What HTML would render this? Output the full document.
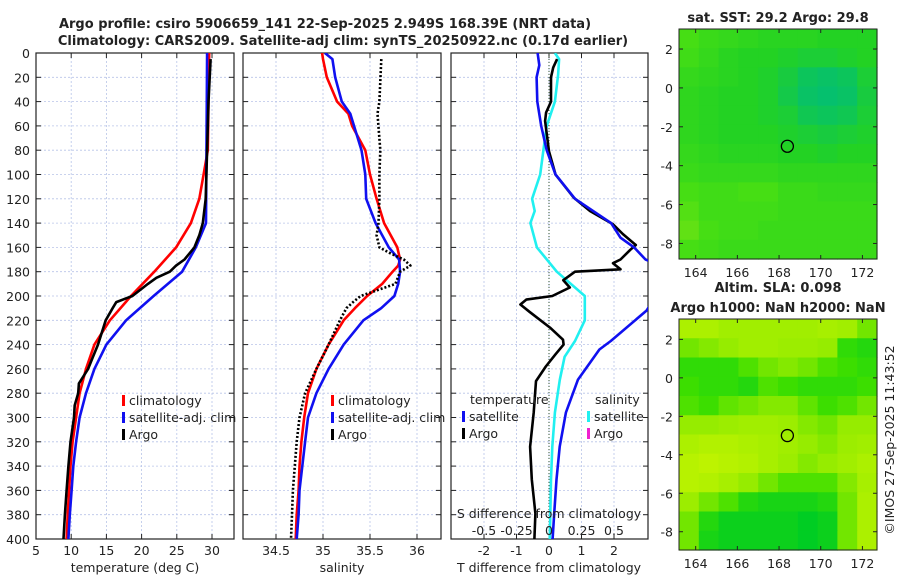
<!DOCTYPE html>
<html><head><meta charset="utf-8"><style>
body{margin:0;background:#fff;}
svg{display:block;font-family:"DejaVu Sans","Liberation Sans",sans-serif;}
</style></head><body>
<svg id="c" width="900" height="580" viewBox="0 0 900 580"></svg>
<script>
// ---------- data ----------
const depthTicks=[0,20,40,60,80,100,120,140,160,180,200,220,240,260,280,300,320,340,360,380,400];
const tempTicks=[5,10,15,20,25,30];
const salTicks=[34.5,35,35.5,36];
const tdTicks=[-2,-1,0,1,2];
const sdTicks=[-0.5,-0.25,0,0.25,0.5];
const sdTickLabels=["-0.5","-0.25","0","0.25","0.5"];
const climTempDepth=[0,80,100,120,140,160,180,200,220,240,260,280,300,320,340,360,380,400];
const climTemp=[29.6,29.4,28.8,28.2,27.0,24.9,21.8,18.5,15.5,13.3,12.1,11.2,10.7,10.2,9.9,9.7,9.5,9.35];
const satTempDepth=[0,140,160,180,200,220,240,260,280,300,320,340,360,380,400];
const satTemp=[29.3,29.15,27.7,25.75,21.7,17.8,15.0,13.3,12.1,11.2,10.7,10.3,10.05,9.8,9.6];
const argoTempDepth=[5,40,100,120,140,150,160,170,175,180,185,190,200,205,210,220,240,250,260,272,280,290,300,320,340,360,380,400];
const argoTemp=[29.8,29.5,29.2,29.1,28.7,28.2,27.5,26.1,24.9,24.0,22.1,20.9,18.7,16.4,15.9,14.9,13.8,13.1,12.4,11.1,11.0,10.5,10.4,9.9,9.6,9.35,9.1,8.9];
const climSalDepth=[0,5,20,40,50,60,80,100,120,140,160,170,175,180,190,200,210,220,240,260,280,300,320,340,360,380,400];
const climSal=[34.99,35.0,35.04,35.15,35.27,35.31,35.45,35.5,35.57,35.65,35.79,35.82,35.8,35.74,35.63,35.47,35.34,35.22,35.06,34.93,34.84,34.8,34.77,34.75,34.74,34.72,34.71];
const satSalDepth=[0,5,20,40,50,80,100,120,140,160,170,180,190,200,210,220,240,260,280,300,320,340,360,380,400];
const satSal=[35.02,35.1,35.13,35.2,35.29,35.41,35.45,35.46,35.56,35.7,35.81,35.82,35.8,35.76,35.62,35.43,35.22,35.06,34.93,34.84,34.81,34.78,34.75,34.74,34.72];
const argoSalDepth=[5,40,50,80,100,120,140,150,160,165,170,175,180,190,200,205,210,220,240,260,280,300,320,340,360,380,400];
const argoSal=[35.62,35.6,35.58,35.61,35.6,35.6,35.59,35.57,35.6,35.72,35.86,35.93,35.82,35.77,35.4,35.32,35.25,35.18,35.06,34.93,34.81,34.75,34.72,34.7,34.68,34.67,34.66];
const satTdDepth=[0,10,20,40,60,80,100,120,140,152,160,170,180,200,212,237,244,269,296,324,351,379,400];
const satTd=[-0.35,-0.3,-0.38,-0.36,-0.24,-0.07,0.2,0.8,1.91,2.2,2.62,2.97,3.9,3.3,3.0,1.9,1.55,0.89,0.52,0.33,0.23,0.16,0.11];
const argoTdDepth=[5,12,20,40,49,56,81,100,119,130,141,149,158,162,170,173,178,180,187,193,200,203,207,213,226,236,240,248,258,270,296,324,351,379,400];
const argoTd=[0.25,0.13,0.06,0.06,-0.09,-0.12,0,0.2,0.76,1.26,1.97,2.27,2.67,2.5,2.2,1.97,2.2,0.8,0.44,0.64,0.1,-0.7,-0.88,-0.6,0.03,0.43,0.45,0.2,-0.1,-0.4,-0.47,-0.58,-0.53,-0.42,-0.45];
const satSdDepth=[0,5,18,40,60,80,100,120,130,140,160,180,200,220,237,250,269,296,324,351,400];
const satSd=[0.045,0.078,0.07,0.045,-0.018,-0.043,-0.068,-0.13,-0.11,-0.143,-0.093,0.06,0.275,0.275,0.2,0.12,0.083,0.045,0.025,0.015,0.006];
const lonTicks=[164,166,168,170,172];
const latTicks=[2,0,-2,-4,-6,-8];
const sstGrid=[
[.3,.4,.45,.5,.55,.55,.55,.6,.6,.6],
[.35,.45,.55,.6,.6,.65,.7,.7,.65,.6],
[.45,.5,.55,.6,.65,.75,.9,.95,.9,.7],
[.5,.55,.6,.6,.65,.8,.95,1,.95,.75],
[.5,.55,.6,.6,.65,.7,.85,.9,.85,.7],
[.5,.55,.6,.6,.6,.65,.7,.75,.7,.65],
[.45,.5,.55,.55,.55,.6,.6,.65,.6,.6],
[.4,.45,.45,.45,.45,.5,.5,.5,.5,.5],
[.3,.35,.35,.3,.3,.4,.4,.45,.45,.45],
[.25,.35,.35,.35,.35,.4,.4,.4,.4,.4],
[.2,.3,.35,.35,.4,.4,.4,.4,.4,.4],
[.3,.35,.4,.4,.4,.4,.4,.4,.4,.4]];
const slaGrid=[
[.3,.3,.4,.4,.4,.4,.4,.35,.4,.6],
[.6,.55,.5,.4,.4,.45,.45,.5,.8,.85],
[.8,.8,.8,.7,.6,.55,.6,.7,.75,.8],
[.75,.8,.8,.85,.7,.75,.8,.8,.8,.75],
[.7,.75,.65,.6,.55,.55,.65,.75,.7,.6],
[.5,.5,.45,.4,.4,.45,.55,.6,.5,.5],
[.3,.25,.25,.3,.35,.4,.5,.55,.45,.4],
[.2,.15,.2,.25,.35,.45,.55,.5,.4,.3],
[.2,.25,.35,.5,.6,.7,.7,.7,.55,.35],
[.45,.6,.7,.85,.9,.9,.9,.85,.6,.3],
[.6,.85,.95,.95,.95,.95,1,.95,.6,.3],
[.6,.9,.95,.95,.95,.95,1,.95,.6,.3]];
const argoLon=168.4, argoLat=-3.0;

// ---------- helpers ----------
const svg=document.getElementById('c');
const NS='http://www.w3.org/2000/svg';
function el(tag,attrs,parent){const e=document.createElementNS(NS,tag);for(const k in attrs)e.setAttribute(k,attrs[k]);(parent||svg).appendChild(e);return e;}
function txt(x,y,s,size,anchor,weight,parent){const t=el('text',{x:x,y:y,'font-size':size,'text-anchor':anchor||'middle','font-weight':weight||'normal',fill:'#222'},parent);t.textContent=s;return t;}
const Y0=53,Y1=539;
const yD=d=>Y0+(d/400)*(Y1-Y0);
function lin(d0,d1,p0,p1){return v=>p0+(v-d0)/(d1-d0)*(p1-p0);}
const xT=lin(5,30,36,212), xS=lin(34.5,36,276,417), xTd=lin(0,2,549,614), xSd=lin(0,0.5,549,614);
const panels=[{l:36,r:234,name:'temperature-panel'},{l:243,r:441,name:'salinity-panel'},{l:451,r:648,name:'difference-panel'}];

let t=txt(325,28,'Argo profile: csiro 5906659_141 22-Sep-2025 2.949S 168.39E (NRT data)',13,'middle','bold');

t=txt(343,45,'Climatology: CARS2009. Satellite-adj clim: synTS_20250922.nc (0.17d earlier)',13,'middle','bold');


function framePanel(p,xs,xticks,labels){
  const g=el('g',{});
  
  
  depthTicks.forEach(d=>{
    el('line',{x1:p.l,x2:p.r,y1:yD(d),y2:yD(d),stroke:'#b8c4e8','stroke-width':0.8,'stroke-dasharray':'2,2'},g);
    el('line',{x1:p.l,x2:p.l+5,y1:yD(d),y2:yD(d),stroke:'#222'},g);
    el('line',{x1:p.r-5,x2:p.r,y1:yD(d),y2:yD(d),stroke:'#222'},g);
  });
  xticks.forEach((v,i)=>{const x=xs(v);
    el('line',{x1:x,x2:x,y1:Y0,y2:Y1,stroke:'#b8c4e8','stroke-width':0.8,'stroke-dasharray':'2,2'},g);
    el('line',{x1:x,x2:x,y1:Y1,y2:Y1-5,stroke:'#222'},g);
    el('line',{x1:x,x2:x,y1:Y0,y2:Y0+5,stroke:'#222'},g);
    const tl=txt(x,555,labels?labels[i]:String(v),12.5,'middle','normal',g);
    
    
  });
  el('rect',{x:p.l,y:Y0,width:p.r-p.l,height:Y1-Y0,fill:'none',stroke:'#222','stroke-width':1.2},g);
  return g;
}
const g1=framePanel(panels[0],xT,tempTicks);
depthTicks.forEach(d=>{const tl=txt(30,yD(d)+5,String(d),12.5,'end','normal',g1);
  
  });
const g2=framePanel(panels[1],xS,salTicks);
const g3=framePanel(panels[2],xTd,tdTicks);
el('line',{x1:xTd(0),x2:xTd(0),y1:Y0,y2:Y1,stroke:'#335533','stroke-width':1,'stroke-dasharray':'1,2'},g3);

let at=txt(135,572,'temperature (deg C)',12.5);
at=txt(342,572,'salinity',12.5);
at=txt(549,572,'T difference from climatology',12.5);

function clipFor(p,id){const cp=el('clipPath',{id:id});el('rect',{x:p.l,y:Y0,width:p.r-p.l,height:Y1-Y0},cp);return 'url(#'+id+')';}
const cl1=clipFor(panels[0],'cl1'),cl2=clipFor(panels[1],'cl2'),cl3=clipFor(panels[2],'cl3');
function line(depths,vals,xs,color,name,clip,parent,dash){
  const pts=depths.map((d,i)=>xs(vals[i]).toFixed(1)+','+yD(d).toFixed(1)).join(' ');
  const a={points:pts,fill:'none',stroke:color,'stroke-width':2.6,'stroke-linejoin':'round','clip-path':clip};
  if(dash)a['stroke-dasharray']=dash;
  const l=el('polyline',a,parent);
  
  
}
line(climTempDepth,climTemp,xT,'#f00','climatology-temp-line',cl1,g1);
line(satTempDepth,satTemp,xT,'#1010f0','satellite-temp-line',cl1,g1);
line(argoTempDepth,argoTemp,xT,'#000','argo-temp-line',cl1,g1);
line(climSalDepth,climSal,xS,'#f00','climatology-sal-line',cl2,g2);
line(satSalDepth,satSal,xS,'#1010f0','satellite-sal-line',cl2,g2);
line(argoSalDepth,argoSal,xS,'#000','argo-sal-line',cl2,g2,'2,2');
line(satSdDepth,satSd,xSd,'#20f0f0','satellite-sdiff-line',cl3,g3);
line(argoTdDepth,argoTd,xTd,'#000','argo-tdiff-line',cl3,g3);
line(satTdDepth,satTd,xTd,'#1010f0','satellite-tdiff-line',cl3,g3);

function legend(x,y,items,parent){items.forEach((it,i)=>{
  const yy=y+i*17;
  const m=el('rect',{x:x,y:yy-10,width:3,height:11,fill:it[1]},parent);
  
  const lt=txt(x+7,yy,it[0],12.5,'start','normal',parent);
  
});}
legend(122,405,[['climatology','#f00'],['satellite-adj. clim','#1010f0'],['Argo','#000']],g1);
legend(331,405,[['climatology','#f00'],['satellite-adj. clim','#1010f0'],['Argo','#000']],g2);
let lt=txt(470,404,'temperature',12.5,'start','normal',g3);
lt=txt(595,404,'salinity',12.5,'start','normal',g3);
legend(462,421,[['satellite','#1010f0'],['Argo','#000']],g3);
legend(587,421,[['satellite','#20f0f0'],['Argo','#f020d0']],g3);
lt=txt(549,518,'S difference from climatology',12.5,'middle','normal',g3);
sdTicks.forEach((v,i)=>{const s=txt(xSd(v),535,sdTickLabels[i],12.5,'middle','normal',g3);
  });

// ---------- maps ----------
function mix(a,b,f){return a.map((v,i)=>Math.round(v+(b[i]-v)*f));}
function cmap(stops,v){for(let i=1;i<stops.length;i++){if(v<=stops[i][0]){const f=(v-stops[i-1][0])/(stops[i][0]-stops[i-1][0]);const c=mix(stops[i-1][1],stops[i][1],f);return 'rgb('+c.join(',')+')';}}const c=stops[stops.length-1][1];return 'rgb('+c.join(',')+')';}
const sstStops=[[0,[150,232,20]],[0.3,[70,222,20]],[0.6,[35,210,35]],[1,[5,192,110]]];
const slaStops=[[0,[205,246,0]],[0.5,[150,236,0]],[0.75,[60,222,0]],[1,[0,205,35]]];
function map(box,grid,stops,name,latTop,latBot,title){
  const g=el('g',{});
  
  
  const lonL=163.2,lonR=172.7;
  const xL=lin(lonL,lonR,box.l,box.r), yL=lin(latTop,latBot,box.t,box.b);
  const rows=grid.length,cols=grid[0].length;
  const cw=(box.r-box.l)/cols,ch=(box.b-box.t)/rows;
  grid.forEach((row,r)=>row.forEach((v,c)=>{
    const cell=el('rect',{x:box.l+c*cw,y:box.t+r*ch,width:cw+0.6,height:ch+0.6,fill:cmap(stops,v)},g);
    
    
  }));
  el('rect',{x:box.l,y:box.t,width:box.r-box.l,height:box.b-box.t,fill:'none',stroke:'#222','stroke-width':1},g);
  lonTicks.forEach(v=>{const x=xL(v);el('line',{x1:x,x2:x,y1:box.b,y2:box.b-4,stroke:'#222'},g);el('line',{x1:x,x2:x,y1:box.t,y2:box.t+4,stroke:'#222'},g);
    const l=txt(x,box.b+18,String(v),12.5,'middle','normal',g);});
  latTicks.forEach(v=>{const y=yL(v);el('line',{x1:box.l,x2:box.l+4,y1:y,y2:y,stroke:'#222'},g);el('line',{x1:box.r-4,x2:box.r,y1:y,y2:y,stroke:'#222'},g);
    const l=txt(box.l-6,y+5,String(v),12.5,'end','normal',g);});
  const ci=el('circle',{cx:xL(argoLon),cy:yL(argoLat),r:6,fill:'none',stroke:'#000','stroke-width':1.3},g);
  
  title.forEach((s,i)=>{const tt=txt((box.l+box.r)/2,box.t-(title.length-1-i)*20-7,s,13,'middle','bold',g);
    });
}
map({l:679,r:877,t:29,b:259},sstGrid,sstStops,'sst-map',3.03,-8.8,['sat. SST: 29.2 Argo: 29.8']);
map({l:679,r:877,t:319,b:550},slaGrid,slaStops,'sla-map',3.06,-8.95,['Altim. SLA: 0.098','Argo h1000: NaN h2000: NaN']);
const cp=txt(0,0,'©IMOS 27-Sep-2025 11:43:52',12.5,'middle','normal');
cp.setAttribute('transform','translate(894,440) rotate(-90)');


</script>
</body></html>
